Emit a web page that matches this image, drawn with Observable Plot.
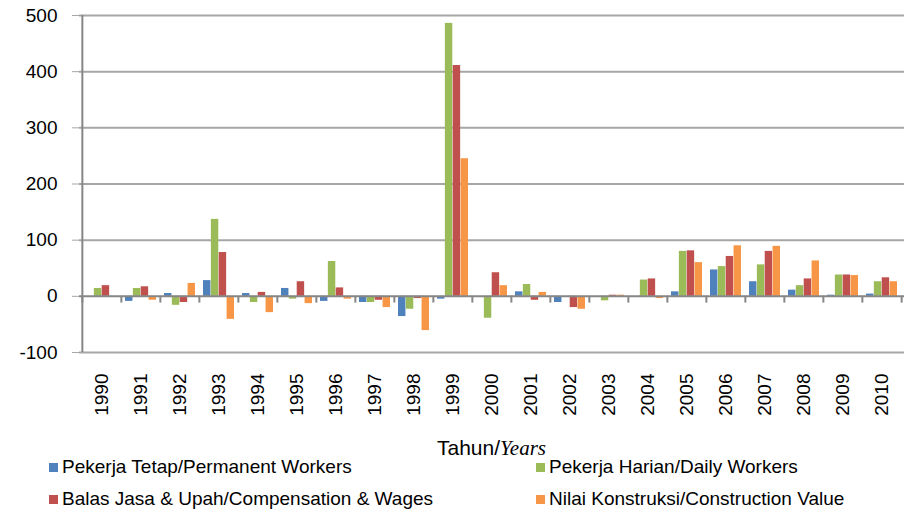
<!DOCTYPE html>
<html><head><meta charset="utf-8">
<script src="https://cdn.jsdelivr.net/npm/d3@7"></script>
<script src="https://cdn.jsdelivr.net/npm/@observablehq/plot@0.6"></script>
<style>
body{margin:0;background:#fff;font-family:"Liberation Sans",Arial,sans-serif;color:#000;}
#wrap{position:relative;width:906px;height:516px;overflow:hidden;}
#chart{position:absolute;left:0;top:0;}
#title{position:absolute;left:79px;width:825px;top:436px;text-align:center;font-size:21px;}
#title i{font-family:"Liberation Serif","Times New Roman",serif;}
.leg{position:absolute;font-size:19px;white-space:nowrap;line-height:20px;}
.leg span.sw{display:inline-block;width:9px;height:9px;margin-right:4px;vertical-align:1px;}
</style></head>
<body>
<div id="wrap">
<div id="chart"></div>
<div id="title">Tahun/<i>Years</i></div>
<div id="legend"></div>
</div>
<script>
const years = ["1990","1991","1992","1993","1994","1995","1996","1997","1998","1999","2000","2001","2002","2003","2004","2005","2006","2007","2008","2009","2010"];
const seriesNames = ["Pekerja Tetap/Permanent Workers","Pekerja Harian/Daily Workers","Balas Jasa & Upah/Compensation & Wages","Nilai Konstruksi/Construction Value"];
const seriesColors = ["#4f81bd","#9bbb59","#c0504d","#f79646"];
const permanent = [0,-9,5,28,5,14,-9,-11,-36,-5,0,8,-11,0,0,8,47,26,11,2,4];
const daily = [14,14,-16,137,-11,-5,62,-11,-23,486,-39,21,0,-8,29,80,53,56,19,38,26];
const wages = [19,17,-11,78,7,26,15,-7,-4,411,42,-7,-20,2,31,81,71,80,31,38,33];
const construction = [0,-7,23,-41,-29,-13,-5,-20,-61,245,19,7,-23,2,-4,60,90,89,63,37,26];
const yTicks = [-100,0,100,200,300,400,500];

const seriesValues = [permanent, daily, wages, construction];
const rows = [];
seriesValues.forEach((vals, s) => vals.forEach((v, i) => rows.push({year: years[i], series: s, value: v})));

const W = 906, H = 430, mL = 79, mR = 2, mT = 15, mB = 78;
const step = (W - mL - mR) / years.length;
const bw = step * 0.8;
const q = bw / 4;

const marks = [
  Plot.gridY({ticks: yTicks.filter(d => d !== 0), stroke: "#a6a6a6", strokeOpacity: 1, strokeWidth: 2}),
  Plot.axisY({ticks: yTicks, tickSize: 7, tickPadding: 15, fontSize: 19, stroke: "#a6a6a6", tickFormat: d => String(d).replace("\u2212","-")}),
  Plot.axisX({tickRotate: -90, tickSize: 0, tickPadding: 21, fontSize: 19}),
];
seriesValues.forEach((vals, s) => {
  marks.push(Plot.barY(rows.filter(r => r.series === s), {
    x: "year", y1: 0, y2: "value", fill: seriesColors[s],
    insetLeft: s * q, insetRight: (3 - s) * q
  }));
});
marks.push(
  Plot.ruleY([0], {stroke: "#868686", strokeWidth: 2}),
  Plot.ruleX(years, {x: d => d, dx: -step / 2, y1: 0, y2: -12, stroke: "#868686", strokeWidth: 2}),
  Plot.ruleX([years[years.length - 1]], {x: d => d, dx: step / 2, y1: 0, y2: -12, stroke: "#868686", strokeWidth: 2}),
  Plot.ruleX([years[0]], {x: d => d, dx: -step / 2, y1: -100, y2: 500, stroke: "#868686", strokeWidth: 2})
);

const chart = Plot.plot({
  width: W, height: H,
  marginLeft: mL, marginRight: mR, marginTop: mT, marginBottom: mB,
  style: {fontFamily: "'Liberation Sans', Arial, sans-serif", color: "#000", background: "#fff"},
  x: {type: "band", domain: years, paddingInner: 0.2, paddingOuter: 0.1, label: null},
  y: {domain: [-100, 500], label: null},
  marks
});
document.getElementById("chart").appendChild(chart);

const legPos = [[49, 457], [536, 457], [49, 489], [536, 489]];
const leg = document.getElementById("legend");
seriesNames.forEach((name, s) => {
  const d = document.createElement("div");
  d.className = "leg";
  d.style.left = legPos[s][0] + "px";
  d.style.top = legPos[s][1] + "px";
  d.innerHTML = `<span class="sw" style="background:${seriesColors[s]}"></span>`;
  d.appendChild(document.createTextNode(name));
  leg.appendChild(d);
});
</script>
</body></html>
